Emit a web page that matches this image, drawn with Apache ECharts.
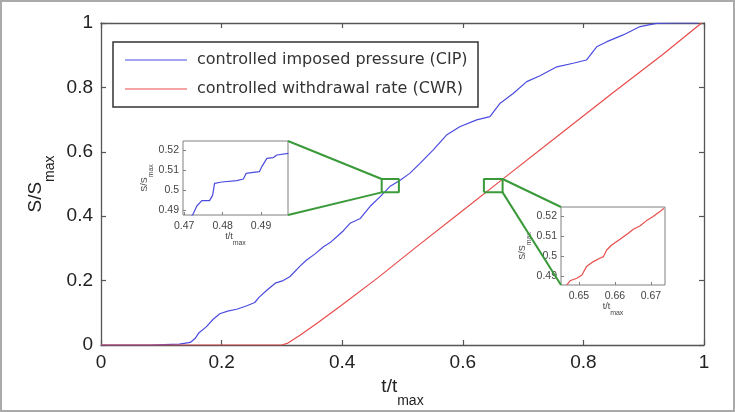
<!DOCTYPE html>
<html>
<head>
<meta charset="utf-8">
<script src="https://cdn.jsdelivr.net/npm/echarts@6/dist/echarts.min.js"></script>
<style>
  html, body { margin: 0; padding: 0; background: #fff; }
  #chart { width: 735px; height: 412px; }
</style>
</head>
<body>
<div id="chart"></div>
<script>
// main curves (t/tmax, S/Smax)
const blueT = [0, 0.08, 0.13, 0.148, 0.156, 0.162, 0.175, 0.186, 0.197, 0.21, 0.225, 0.242, 0.255, 0.262, 0.275, 0.289, 0.302, 0.313, 0.33, 0.341, 0.355, 0.369, 0.38, 0.391, 0.402, 0.413, 0.43, 0.446, 0.463, 0.479, 0.496, 0.512, 0.529, 0.551, 0.573, 0.595, 0.623, 0.645, 0.662, 0.684, 0.706, 0.728, 0.756, 0.783, 0.805, 0.822, 0.839, 0.866, 0.894, 0.921, 0.95, 0.99];
const blueS = [0, 0, 0.003, 0.008, 0.02, 0.037, 0.057, 0.08, 0.097, 0.105, 0.111, 0.122, 0.132, 0.148, 0.17, 0.192, 0.2, 0.212, 0.245, 0.264, 0.283, 0.305, 0.318, 0.336, 0.355, 0.378, 0.393, 0.43, 0.461, 0.492, 0.512, 0.533, 0.564, 0.606, 0.652, 0.678, 0.699, 0.709, 0.751, 0.782, 0.818, 0.836, 0.864, 0.875, 0.885, 0.926, 0.942, 0.963, 0.989, 0.999, 1.0, 1.0];
const redT = [0, 0.3, 0.31, 0.33, 0.36, 0.40, 0.46, 0.52, 0.60, 0.664, 0.75, 0.85, 0.93, 0.996];
const redS = [0, 0, 0.006, 0.03, 0.07, 0.125, 0.21, 0.30, 0.418, 0.512, 0.638, 0.785, 0.9, 1.0];

// zoomed parts
const ins1T = [0.4715, 0.4722, 0.4733, 0.4746, 0.4766, 0.4774, 0.4779, 0.4798, 0.4837, 0.4854, 0.4861, 0.4880, 0.4896, 0.4902, 0.4915, 0.4932, 0.4941, 0.4971];
const ins1S = [0.486, 0.4875, 0.492, 0.4947, 0.4947, 0.4973, 0.5033, 0.504, 0.5047, 0.5055, 0.5083, 0.5088, 0.5092, 0.5117, 0.5158, 0.5162, 0.5175, 0.5183];
const ins2T = [0.6466, 0.6475, 0.6494, 0.6508, 0.6521, 0.654, 0.6558, 0.6568, 0.6577, 0.6591, 0.6614, 0.6637, 0.6651, 0.6669, 0.6688, 0.6706, 0.6725, 0.6736];
const ins2S = [0.4858, 0.4879, 0.4892, 0.4908, 0.495, 0.4975, 0.4992, 0.5, 0.5033, 0.5058, 0.5087, 0.5117, 0.5137, 0.5153, 0.518, 0.52, 0.5225, 0.5242];

// inset axis ranges and ticks
const ins1X = [0.4697, 0.497];
const ins1Y = [0.4875, 0.5245];
const ins1XTicks = [0.47, 0.48, 0.49];
const ins1YTicks = [0.49, 0.5, 0.51, 0.52];
const ins2X = [0.645, 0.6739];
const ins2Y = [0.4858, 0.5248];
const ins2XTicks = [0.65, 0.66, 0.67];
const ins2YTicks = [0.49, 0.5, 0.51, 0.52];

// green boxes on the main plot
const box1T = [0.4655, 0.494];
const box1S = [0.474, 0.5155];
const box2T = [0.635, 0.666];
const box2S = [0.474, 0.5155];

const legendNames = ['controlled imposed pressure (CIP)', 'controlled withdrawal rate (CWR)'];

const blue = '#4b4be0';
const red = '#e84c4c';
const green = '#3a9a3a';
const axisGray = '#555';
const insGray = '#808080';
const font = 'Liberation Sans';

function zip(a, b) {
    return a.map((v, i) => [v, b[i]]);
}
function rectPts(t, s) {
    return [[t[0], s[0]], [t[1], s[0]], [t[1], s[1]], [t[0], s[1]], [t[0], s[0]]];
}

const chart = echarts.init(document.getElementById('chart'));

// name with a subscript: big text on top, small one pushed down by lineHeight
function subName(big, small, lh, color) {
    return {
        rich: {
            a: { fontFamily: font, fontSize: big, color: color, lineHeight: big + 1, verticalAlign: 'top' },
            b: { fontFamily: font, fontSize: small, color: color, lineHeight: lh, verticalAlign: 'bottom' }
        }
    };
}

function mainX(pos) {
    return {
        gridIndex: 0, type: 'value', min: 0, max: 1, interval: 0.2, position: pos,
        axisLine: { onZero: false, lineStyle: { color: axisGray, width: 1.3 } },
        axisTick: { inside: true, length: 5, lineStyle: { color: axisGray, width: 1.2 } },
        splitLine: { show: false },
        axisLabel: { show: pos === 'bottom', color: '#222', fontSize: 19, fontFamily: font, margin: 8 }
    };
}
function mainY(pos) {
    return {
        gridIndex: 0, type: 'value', min: 0, max: 1, interval: 0.2, position: pos,
        axisLine: { onZero: false, lineStyle: { color: axisGray, width: 1.3 } },
        axisTick: { inside: true, length: 5, lineStyle: { color: axisGray, width: 1.2 } },
        splitLine: { show: false },
        axisLabel: { show: pos === 'left', color: '#222', fontSize: 19, fontFamily: font, margin: 8 }
    };
}
function insAxis(dim, gi, range, ticks, name, gap) {
    return {
        gridIndex: gi, type: 'value', min: range[0], max: range[1],
        axisLine: { show: false, onZero: false },
        axisTick: { inside: true, length: 3, customValues: ticks, lineStyle: { color: insGray } },
        splitLine: { show: false },
        axisLabel: { customValues: ticks, color: '#444', fontSize: 10.5, fontFamily: font, margin: dim === 'x' ? 6 : 4 },
        name: name, nameLocation: 'middle', nameGap: gap, nameRotate: dim === 'y' ? 90 : 0,
        nameMoveOverlap: false,
        nameTextStyle: subName(9, 7, 15, '#444')
    };
}

const xBottom = mainX('bottom');
xBottom.name = '{a|t/t}{b|max}';
xBottom.nameLocation = 'middle';
xBottom.nameGap = 32;
xBottom.nameMoveOverlap = false;
xBottom.nameTextStyle = subName(19, 14, 31, '#222');
const yLeft = mainY('left');
yLeft.name = '{a|S/S}{b|max}';
yLeft.nameLocation = 'middle';
yLeft.nameGap = 44;
yLeft.nameRotate = 90;
yLeft.nameMoveOverlap = false;
yLeft.nameTextStyle = subName(19, 14, 31, '#222');

function lineSeries(axisIdx, data, color, w) {
    return {
        type: 'line', xAxisIndex: axisIdx, yAxisIndex: axisIdx, data: data,
        showSymbol: false, symbol: 'none', animation: false, silent: true,
        lineStyle: { color: color, width: w }
    };
}

const option = {
    animation: false,
    backgroundColor: '#fff',
    grid: [
        { left: 101, top: 23, width: 603, height: 322, outerBoundsMode: 'none', containLabel: false },
        { left: 183, top: 141, width: 105, height: 74, outerBoundsMode: 'none', containLabel: false,
          show: true, borderColor: insGray, borderWidth: 1, backgroundColor: '#fff' },
        { left: 561, top: 207, width: 104, height: 78, outerBoundsMode: 'none', containLabel: false,
          show: true, borderColor: insGray, borderWidth: 1, backgroundColor: '#fff' }
    ],
    xAxis: [
        xBottom, mainX('top'),
        insAxis('x', 1, ins1X, ins1XTicks, '{a|t/t}{b|max}', 17),
        insAxis('x', 2, ins2X, ins2XTicks, '{a|t/t}{b|max}', 17)
    ],
    yAxis: [
        yLeft, mainY('right'),
        insAxis('y', 1, ins1Y, ins1YTicks, '{a|S/S}{b|max}', 28),
        insAxis('y', 2, ins2Y, ins2YTicks, '{a|S/S}{b|max}', 28)
    ],
    series: [
        lineSeries(0, zip(blueT, blueS), blue, 1.2),
        lineSeries(0, zip(redT, redS), red, 1.2),
        lineSeries(0, rectPts(box1T, box1S), green, 2),
        lineSeries(0, rectPts(box2T, box2S), green, 2),
        lineSeries(2, zip(ins1T, ins1S), blue, 1.2),
        lineSeries(3, zip(ins2T, ins2S), red, 1.2)
    ]
};

chart.setOption(option);

// connector lines and legend
const p = (gi, pt) => chart.convertToPixel({ gridIndex: gi }, pt);
const conn = [
    [p(1, [ins1X[1], ins1Y[1]]), p(0, [box1T[0], box1S[1]])],
    [p(1, [ins1X[1], ins1Y[0]]), p(0, [box1T[0], box1S[0]])],
    [p(0, [box2T[1], box2S[1]]), p(2, [ins2X[0], ins2Y[1]])],
    [p(0, [box2T[1], box2S[0]]), p(2, [ins2X[0], ins2Y[0]])]
];
const graphic = conn.map(c => ({
    type: 'line', z: 50, silent: true,
    shape: { x1: c[0][0], y1: c[0][1], x2: c[1][0], y2: c[1][1] },
    style: { stroke: green, lineWidth: 2 }
}));
graphic.push({
    type: 'rect', z: 60, shape: { x: 113, y: 42, width: 365, height: 65 },
    style: { fill: '#fff', stroke: '#333', lineWidth: 1.5 }
});
[blue, red].forEach((c, i) => {
    const y = 60 + i * 29;
    graphic.push({ type: 'line', z: 61, shape: { x1: 125, y1: y, x2: 187, y2: y }, style: { stroke: c, lineWidth: 1.2 } });
    graphic.push({
        type: 'text', z: 61, x: 197, y: y,
        style: { text: legendNames[i], fontFamily: 'DejaVu Sans', fontSize: 16, fill: '#333', verticalAlign: 'middle' }
    });
});
graphic.push({
    type: 'rect', z: 70, shape: { x: 1, y: 1, width: 733, height: 410 },
    style: { fill: 'none', stroke: '#aaa', lineWidth: 2 }
});
chart.setOption({ graphic: graphic });
</script>
</body>
</html>
